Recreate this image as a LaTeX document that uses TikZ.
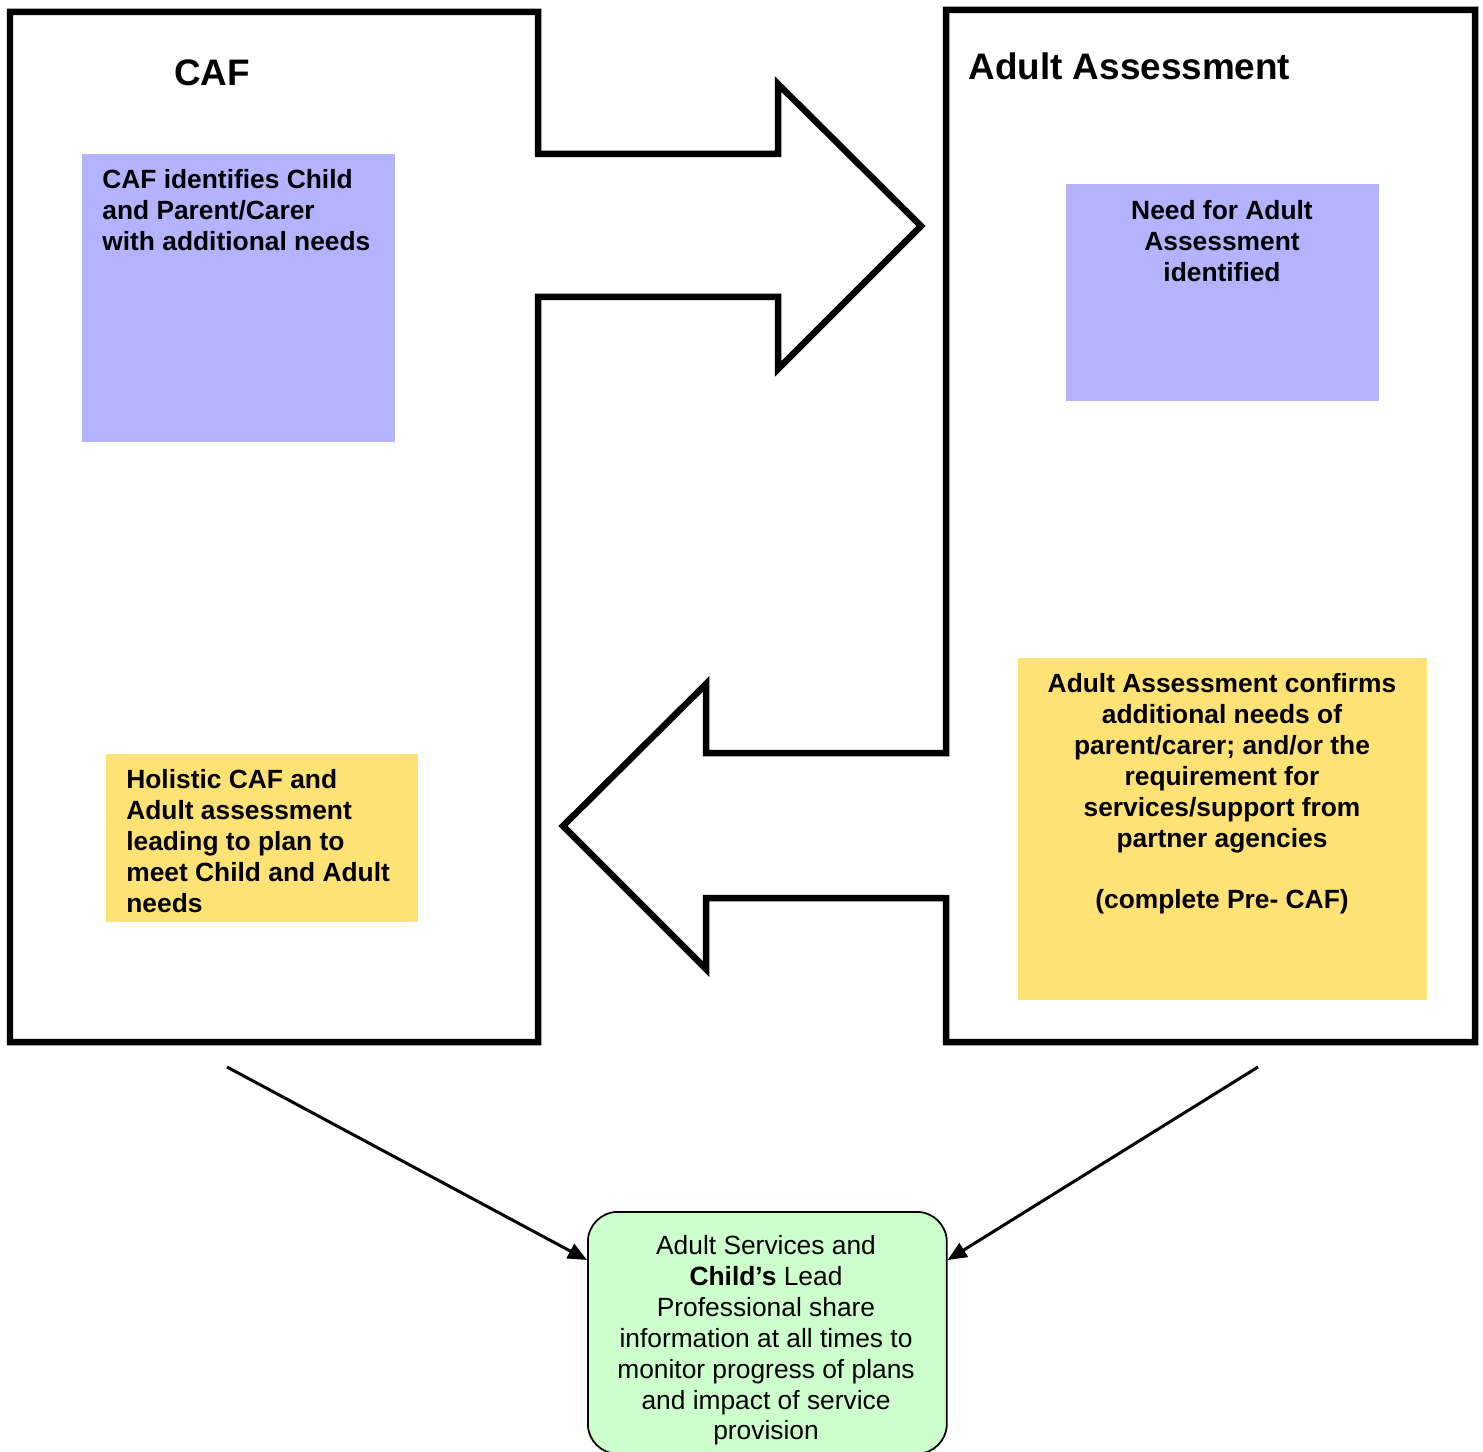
\documentclass[tikz,border=0pt]{standalone}
\usepackage{fontspec}
\setmainfont{Liberation Sans}
\usetikzlibrary{arrows.meta}

\begin{document}
\begin{tikzpicture}[x=0.02cm, y=-0.02cm,
                outline/.style={line width=0.13cm},
                panel/.style={anchor=north west, inner sep=0pt},
                body/.style={inner sep=0pt, font=\bfseries\fontsize{15}{17.6}\selectfont},
                title/.style={inner sep=0pt, font=\bfseries\fontsize{21}{25}\selectfont},
                link/.style={line width=0.06cm, -{Triangle[length=0.38cm, width=0.32cm]}}]
                \definecolor{blueFill}{RGB}{179,179,255}
                \definecolor{yellowFill}{RGB}{255,226,117}
                \definecolor{greenFill}{RGB}{204,255,204}
                \useasboundingbox (0,0) rectangle (1483,1452);
                \draw[outline] (10,12) -- (538,12) -- (538,154) -- (778,154) -- (778,84) -- (921,226)
                  -- (778,369) -- (778,297) -- (538,297) -- (538,1042) -- (10,1042) -- cycle;
                \draw[outline] (946,10) -- (1475,10) -- (1475,1042) -- (946,1042) -- (946,898) -- (706,898)
                  -- (706,969) -- (563,826) -- (706,684) -- (706,753) -- (946,753) -- cycle;
                \node[title] (caf) at (212,73) {CAF};
                \node[title, anchor=west] (adult) at (968,66) {Adult Assessment};
                \node[panel, fill=blueFill, minimum width=6.26cm, minimum height=5.76cm] (cafneed) at (82,154) {};
                \node[body, anchor=north west, align=left] (cafneedtext) at (102,169)
                  {CAF identifies Child\\and Parent/Carer\\with additional needs};
                \node[panel, fill=blueFill, minimum width=6.26cm, minimum height=4.34cm] (adultneed) at (1066,184) {};
                \node[body, anchor=north, align=center] (adultneedtext) at (1222,200)
                  {Need for Adult\\Assessment\\identified};
                \node[panel, fill=yellowFill, minimum width=6.24cm, minimum height=3.36cm] (holistic) at (106,754) {};
                \node[body, anchor=north west, align=left] (holistictext) at (126,769)
                  {Holistic CAF and\\Adult assessment\\leading to plan to\\meet Child and Adult\\needs};
                \node[panel, fill=yellowFill, minimum width=8.18cm, minimum height=6.84cm] (confirm) at (1018,658) {};
                \node[body, anchor=north, align=center] (confirmtext) at (1222,673)
                  {Adult Assessment confirms\\additional needs of\\parent/carer; and/or the\\requirement for\\services/support from\\partner agencies\\[17.6pt](complete Pre- CAF)};
                \node[panel, draw, line width=0.035cm, rounded corners=0.6cm, fill=greenFill,
                  minimum width=7.18cm, minimum height=4.84cm] (share) at (587,1211) {};
                \node[anchor=north, align=center, inner sep=0pt, font=\fontsize{15}{17.6}\selectfont] (sharetext) at (766,1235)
                  {Adult Services and\\\textbf{Child’s} Lead\\Professional share\\information at all times to\\monitor progress of plans\\and impact of service\\provision};
                \coordinate (cafdown) at (227,1067);
                \coordinate (adultdown) at (1258,1067);
                \draw[link] (cafdown) -- (share.158);
                \draw[link] (adultdown) -- (share.22);
              \end{tikzpicture}
\end{document}
